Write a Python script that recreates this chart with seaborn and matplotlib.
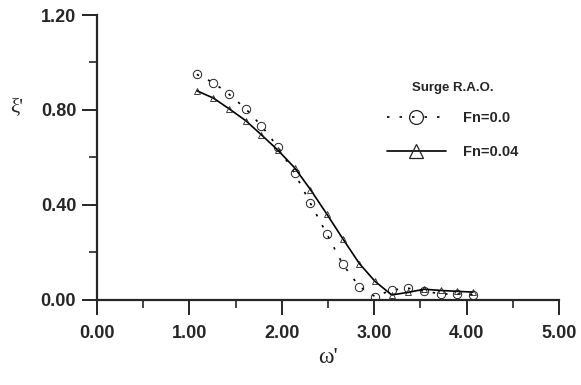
import pandas as pd
import matplotlib
matplotlib.use("Agg")
import matplotlib.pyplot as plt
import seaborn as sns
from matplotlib.ticker import MultipleLocator, FormatStrFormatter

sns.set_style("ticks")
plt.rcParams['font.family'] = ['Liberation Sans', 'DejaVu Sans']

# data
omega = [1.08, 1.26, 1.43, 1.61, 1.78, 1.96, 2.14, 2.31, 2.49, 2.66, 2.84,
         3.01, 3.19, 3.37, 3.54, 3.72, 3.90, 4.07]
fn_00 = [0.950, 0.915, 0.866, 0.805, 0.733, 0.643, 0.533, 0.407, 0.276, 0.150,
         0.056, 0.014, 0.042, 0.049, 0.038, 0.025, 0.025, 0.022]
fn_004 = [0.881, 0.850, 0.805, 0.755, 0.695, 0.630, 0.556, 0.465, 0.360, 0.258,
          0.153, 0.078, 0.021, 0.032, 0.045, 0.040, 0.036, 0.033]
labels = ["Fn=0.0", "Fn=0.04"]

df = pd.concat([
    pd.DataFrame({"w": omega, "xi": fn_00, "case": labels[0]}),
    pd.DataFrame({"w": omega, "xi": fn_004, "case": labels[1]}),
])

fig = plt.figure(figsize=(5.81, 3.85), dpi=100)
ax = fig.add_axes([0.167, 0.221, 0.795, 0.740])

f = sns.lineplot(data=df, x="w", y="xi", hue="case", style="case",
                 hue_order=labels, style_order=labels,
                 palette=["black", "black"],
                 markers={labels[0]: "o", labels[1]: "^"},
                 dashes={labels[0]: (1.5, 6), labels[1]: ""},
                 markersize=6, markerfacecolor="none", markeredgecolor="#222222",
                 markeredgewidth=0.7, linewidth=1.2, ax=ax)
# the triangles are small in the source
for line in ax.lines:
    if line.get_marker() == "^":
        line.set_markersize(5)
        line.set_markeredgewidth(0.6)

ax.set_xlim(0, 5)
ax.set_ylim(0, 1.2)
ax.xaxis.set_major_locator(MultipleLocator(1.0))
ax.xaxis.set_minor_locator(MultipleLocator(0.5))
ax.yaxis.set_major_locator(MultipleLocator(0.4))
ax.yaxis.set_minor_locator(MultipleLocator(0.2))
ax.xaxis.set_major_formatter(FormatStrFormatter("%.2f"))
ax.yaxis.set_major_formatter(FormatStrFormatter("%.2f"))
ax.tick_params(which="major", length=11, width=1.4, labelsize=13, pad=4)
ax.tick_params(axis="x", which="major", pad=7)
ax.tick_params(which="minor", length=6, width=1.2)
for t in ax.get_xticklabels() + ax.get_yticklabels():
    t.set_fontweight("bold")
sns.despine(ax=ax)
for s in ["left", "bottom"]:
    ax.spines[s].set_linewidth(1.6)

ax.set_xlabel("ω'", family=["Liberation Serif", "DejaVu Serif"], fontsize=17, labelpad=4)
ax.set_ylabel("ξ'", family=["Liberation Serif", "DejaVu Serif"], fontsize=15,
              rotation=0, va="center", ha="center")
ax.yaxis.set_label_coords(-0.173, 0.674)

leg = ax.legend(title="Surge R.A.O.", loc="upper left", bbox_to_anchor=(0.60, 0.81),
                frameon=False, handlelength=4, fontsize=10.5, labelspacing=1.35,
                handletextpad=1.2)
leg.get_title().set_fontweight("bold")
leg.get_title().set_fontsize(9.5)
leg._legend_box.sep = 12
for t in leg.get_texts():
    t.set_fontweight("bold")
for h in leg.legend_handles:
    h.set_markersize(10)
    h.set_markeredgewidth(0.9)

fig.savefig("out.png", dpi=100)
